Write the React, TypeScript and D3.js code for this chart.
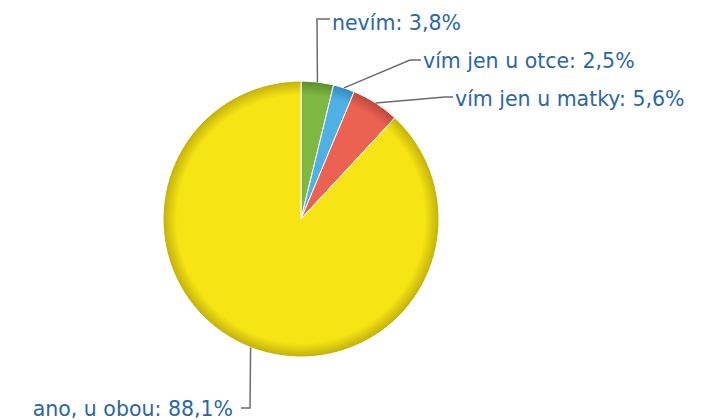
import React from "react";
import * as d3 from "d3";

const categories = ["nevím", "vím jen u otce", "vím jen u matky", "ano, u obou"];
const values = [3.8, 2.5, 5.6, 88.1];
const colors = ["#7cb842", "#4fb0e6", "#ec6252", "#f6e415"];
const rimColors = ["#5b8c2c", "#3288bb", "#bd473c", "#c2b00a"];

// label layout (text anchor position, elbow point) for each slice
const labelLayout = [
  { tx: 332, ty: 30, ex: 317, ey: 19, hx: 330, anchor: "start" },
  { tx: 423, ty: 68, ex: 410, ey: 60, hx: 421, anchor: "start" },
  { tx: 455, ty: 106, ex: 445, ey: 97, hx: 453, anchor: "start" },
  { tx: 233, ty: 416, ex: 250, ey: 408, hx: 241, anchor: "end" },
];

const fmt = (v: number) => v.toFixed(1).replace(".", ",") + "%";

export default function App() {
  const width = 704;
  const height = 420;
  const cx = 301;
  const cy = 219;
  const r = 138;

  const pie = d3
    .pie<number>()
    .sort(null)
    .value((d) => d);
  const arcs = pie(values);
  const arc = d3.arc<d3.PieArcDatum<number>>().innerRadius(0).outerRadius(r);

  return (
    <svg
      width={width}
      height={height}
      style={{ position: "absolute", left: 0, top: 0, background: "#fff" }}
    >
      <defs>
        {colors.map((c, i) => (
          <radialGradient
            key={i}
            id={`g${i}`}
            gradientUnits="userSpaceOnUse"
            cx={0}
            cy={0}
            r={r}
          >
            <stop offset="0" stopColor={c} />
            <stop offset="0.9" stopColor={c} />
            <stop offset="1" stopColor={rimColors[i]} />
          </radialGradient>
        ))}
      </defs>
      <g transform={`translate(${cx},${cy})`}>
        {arcs.map((a, i) => (
          <path
            key={i}
            d={arc(a) || ""}
            fill={`url(#g${i})`}
            stroke="#ffffff"
            strokeWidth={1}
            strokeLinejoin="round"
          />
        ))}
      </g>
      {arcs.map((a, i) => {
        const mid = (a.startAngle + a.endAngle) / 2;
        const sx = cx + r * Math.sin(mid);
        const sy = cy - r * Math.cos(mid);
        const L = labelLayout[i];
        const d = `M${sx},${sy} L${L.ex},${L.ey} L${L.hx},${L.ey}`;
        return (
          <g key={i}>
            <path d={d} fill="none" stroke="#6b6b6b" strokeWidth={1.5} />
            <text
              x={L.tx}
              y={L.ty}
              textAnchor={L.anchor as any}
              fontFamily="'DejaVu Sans', sans-serif"
              fontSize={20.5}
              fill="#2c67a2"
            >
              {categories[i]}: {fmt(values[i])}
            </text>
          </g>
        );
      })}
    </svg>
  );
}
